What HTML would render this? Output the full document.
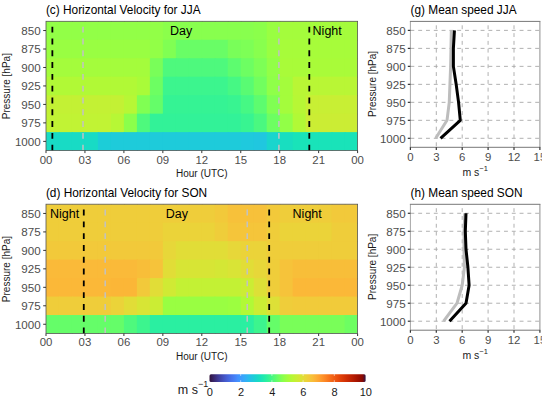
<!DOCTYPE html>
<html><head><meta charset="utf-8"><style>
html,body{margin:0;padding:0;background:#fff;}
svg{display:block;font-family:'Liberation Sans',sans-serif;}
</style></head><body>
<svg width="550" height="402" viewBox="0 0 550 402" style="font-family:'Liberation Sans',sans-serif">
<defs><clipPath id="rclip" clipPathUnits="userSpaceOnUse"><rect x="0" y="0" width="541.8" height="402"/></clipPath></defs>
<rect x="46.00" y="21.30" width="13.98" height="19.47" fill="#92ff47"/>
<rect x="58.98" y="21.30" width="13.98" height="19.47" fill="#92ff47"/>
<rect x="71.97" y="21.30" width="13.98" height="19.47" fill="#92ff47"/>
<rect x="84.95" y="21.30" width="13.98" height="19.47" fill="#92ff47"/>
<rect x="97.93" y="21.30" width="13.98" height="19.47" fill="#92ff47"/>
<rect x="110.92" y="21.30" width="13.98" height="19.47" fill="#92ff47"/>
<rect x="123.90" y="21.30" width="13.98" height="19.47" fill="#92ff47"/>
<rect x="136.88" y="21.30" width="13.98" height="19.47" fill="#92ff47"/>
<rect x="149.87" y="21.30" width="13.98" height="19.47" fill="#92ff47"/>
<rect x="162.85" y="21.30" width="13.98" height="19.47" fill="#8bff4b"/>
<rect x="175.83" y="21.30" width="13.98" height="19.47" fill="#88ff4e"/>
<rect x="188.82" y="21.30" width="13.98" height="19.47" fill="#88ff4e"/>
<rect x="201.80" y="21.30" width="13.98" height="19.47" fill="#88ff4e"/>
<rect x="214.78" y="21.30" width="13.98" height="19.47" fill="#88ff4e"/>
<rect x="227.77" y="21.30" width="13.98" height="19.47" fill="#88ff4e"/>
<rect x="240.75" y="21.30" width="13.98" height="19.47" fill="#88ff4e"/>
<rect x="253.73" y="21.30" width="13.98" height="19.47" fill="#8bff4b"/>
<rect x="266.72" y="21.30" width="13.98" height="19.47" fill="#99fe42"/>
<rect x="279.70" y="21.30" width="13.98" height="19.47" fill="#a4fc3c"/>
<rect x="292.68" y="21.30" width="13.98" height="19.47" fill="#a4fc3c"/>
<rect x="305.67" y="21.30" width="13.98" height="19.47" fill="#a4fc3c"/>
<rect x="318.65" y="21.30" width="13.98" height="19.47" fill="#a4fc3c"/>
<rect x="331.63" y="21.30" width="13.98" height="19.47" fill="#a4fc3c"/>
<rect x="344.62" y="21.30" width="12.98" height="19.47" fill="#a4fc3c"/>
<rect x="46.00" y="39.77" width="13.98" height="19.47" fill="#99fe42"/>
<rect x="58.98" y="39.77" width="13.98" height="19.47" fill="#99fe42"/>
<rect x="71.97" y="39.77" width="13.98" height="19.47" fill="#99fe42"/>
<rect x="84.95" y="39.77" width="13.98" height="19.47" fill="#99fe42"/>
<rect x="97.93" y="39.77" width="13.98" height="19.47" fill="#99fe42"/>
<rect x="110.92" y="39.77" width="13.98" height="19.47" fill="#99fe42"/>
<rect x="123.90" y="39.77" width="13.98" height="19.47" fill="#99fe42"/>
<rect x="136.88" y="39.77" width="13.98" height="19.47" fill="#99fe42"/>
<rect x="149.87" y="39.77" width="13.98" height="19.47" fill="#92ff47"/>
<rect x="162.85" y="39.77" width="13.98" height="19.47" fill="#80ff53"/>
<rect x="175.83" y="39.77" width="13.98" height="19.47" fill="#69fd66"/>
<rect x="188.82" y="39.77" width="13.98" height="19.47" fill="#69fd66"/>
<rect x="201.80" y="39.77" width="13.98" height="19.47" fill="#69fd66"/>
<rect x="214.78" y="39.77" width="13.98" height="19.47" fill="#69fd66"/>
<rect x="227.77" y="39.77" width="13.98" height="19.47" fill="#79fe59"/>
<rect x="240.75" y="39.77" width="13.98" height="19.47" fill="#7dff56"/>
<rect x="253.73" y="39.77" width="13.98" height="19.47" fill="#88ff4e"/>
<rect x="266.72" y="39.77" width="13.98" height="19.47" fill="#99fe42"/>
<rect x="279.70" y="39.77" width="13.98" height="19.47" fill="#a7fc3a"/>
<rect x="292.68" y="39.77" width="13.98" height="19.47" fill="#a7fc3a"/>
<rect x="305.67" y="39.77" width="13.98" height="19.47" fill="#a7fc3a"/>
<rect x="318.65" y="39.77" width="13.98" height="19.47" fill="#a7fc3a"/>
<rect x="331.63" y="39.77" width="13.98" height="19.47" fill="#a7fc3a"/>
<rect x="344.62" y="39.77" width="12.98" height="19.47" fill="#a7fc3a"/>
<rect x="46.00" y="58.24" width="13.98" height="19.47" fill="#a4fc3c"/>
<rect x="58.98" y="58.24" width="13.98" height="19.47" fill="#a4fc3c"/>
<rect x="71.97" y="58.24" width="13.98" height="19.47" fill="#a4fc3c"/>
<rect x="84.95" y="58.24" width="13.98" height="19.47" fill="#a4fc3c"/>
<rect x="97.93" y="58.24" width="13.98" height="19.47" fill="#a4fc3c"/>
<rect x="110.92" y="58.24" width="13.98" height="19.47" fill="#a4fc3c"/>
<rect x="123.90" y="58.24" width="13.98" height="19.47" fill="#a4fc3c"/>
<rect x="136.88" y="58.24" width="13.98" height="19.47" fill="#a4fc3c"/>
<rect x="149.87" y="58.24" width="13.98" height="19.47" fill="#79fe59"/>
<rect x="162.85" y="58.24" width="13.98" height="19.47" fill="#4ef97d"/>
<rect x="175.83" y="58.24" width="13.98" height="19.47" fill="#4ef97d"/>
<rect x="188.82" y="58.24" width="13.98" height="19.47" fill="#4ef97d"/>
<rect x="201.80" y="58.24" width="13.98" height="19.47" fill="#4ef97d"/>
<rect x="214.78" y="58.24" width="13.98" height="19.47" fill="#4ef97d"/>
<rect x="227.77" y="58.24" width="13.98" height="19.47" fill="#5dfc6f"/>
<rect x="240.75" y="58.24" width="13.98" height="19.47" fill="#6dfe62"/>
<rect x="253.73" y="58.24" width="13.98" height="19.47" fill="#7dff56"/>
<rect x="266.72" y="58.24" width="13.98" height="19.47" fill="#92ff47"/>
<rect x="279.70" y="58.24" width="13.98" height="19.47" fill="#a9fb39"/>
<rect x="292.68" y="58.24" width="13.98" height="19.47" fill="#a9fb39"/>
<rect x="305.67" y="58.24" width="13.98" height="19.47" fill="#a9fb39"/>
<rect x="318.65" y="58.24" width="13.98" height="19.47" fill="#a9fb39"/>
<rect x="331.63" y="58.24" width="13.98" height="19.47" fill="#a9fb39"/>
<rect x="344.62" y="58.24" width="12.98" height="19.47" fill="#a9fb39"/>
<rect x="46.00" y="76.71" width="13.98" height="19.47" fill="#b1f936"/>
<rect x="58.98" y="76.71" width="13.98" height="19.47" fill="#b1f936"/>
<rect x="71.97" y="76.71" width="13.98" height="19.47" fill="#b1f936"/>
<rect x="84.95" y="76.71" width="13.98" height="19.47" fill="#b1f936"/>
<rect x="97.93" y="76.71" width="13.98" height="19.47" fill="#b1f936"/>
<rect x="110.92" y="76.71" width="13.98" height="19.47" fill="#b1f936"/>
<rect x="123.90" y="76.71" width="13.98" height="19.47" fill="#b1f936"/>
<rect x="136.88" y="76.71" width="13.98" height="19.47" fill="#a9fb39"/>
<rect x="149.87" y="76.71" width="13.98" height="19.47" fill="#6dfe62"/>
<rect x="162.85" y="76.71" width="13.98" height="19.47" fill="#3cf58e"/>
<rect x="175.83" y="76.71" width="13.98" height="19.47" fill="#3cf58e"/>
<rect x="188.82" y="76.71" width="13.98" height="19.47" fill="#3cf58e"/>
<rect x="201.80" y="76.71" width="13.98" height="19.47" fill="#3cf58e"/>
<rect x="214.78" y="76.71" width="13.98" height="19.47" fill="#3cf58e"/>
<rect x="227.77" y="76.71" width="13.98" height="19.47" fill="#46f884"/>
<rect x="240.75" y="76.71" width="13.98" height="19.47" fill="#59fb73"/>
<rect x="253.73" y="76.71" width="13.98" height="19.47" fill="#71fe5f"/>
<rect x="266.72" y="76.71" width="13.98" height="19.47" fill="#8fff49"/>
<rect x="279.70" y="76.71" width="13.98" height="19.47" fill="#a4fc3c"/>
<rect x="292.68" y="76.71" width="13.98" height="19.47" fill="#b9f635"/>
<rect x="305.67" y="76.71" width="13.98" height="19.47" fill="#b9f635"/>
<rect x="318.65" y="76.71" width="13.98" height="19.47" fill="#b9f635"/>
<rect x="331.63" y="76.71" width="13.98" height="19.47" fill="#b9f635"/>
<rect x="344.62" y="76.71" width="12.98" height="19.47" fill="#b9f635"/>
<rect x="46.00" y="95.19" width="13.98" height="19.47" fill="#c3f134"/>
<rect x="58.98" y="95.19" width="13.98" height="19.47" fill="#c3f134"/>
<rect x="71.97" y="95.19" width="13.98" height="19.47" fill="#c3f134"/>
<rect x="84.95" y="95.19" width="13.98" height="19.47" fill="#c3f134"/>
<rect x="97.93" y="95.19" width="13.98" height="19.47" fill="#c3f134"/>
<rect x="110.92" y="95.19" width="13.98" height="19.47" fill="#c3f134"/>
<rect x="123.90" y="95.19" width="13.98" height="19.47" fill="#b7f735"/>
<rect x="136.88" y="95.19" width="13.98" height="19.47" fill="#80ff53"/>
<rect x="149.87" y="95.19" width="13.98" height="19.47" fill="#65fd69"/>
<rect x="162.85" y="95.19" width="13.98" height="19.47" fill="#35f394"/>
<rect x="175.83" y="95.19" width="13.98" height="19.47" fill="#35f394"/>
<rect x="188.82" y="95.19" width="13.98" height="19.47" fill="#35f394"/>
<rect x="201.80" y="95.19" width="13.98" height="19.47" fill="#35f394"/>
<rect x="214.78" y="95.19" width="13.98" height="19.47" fill="#35f394"/>
<rect x="227.77" y="95.19" width="13.98" height="19.47" fill="#38f491"/>
<rect x="240.75" y="95.19" width="13.98" height="19.47" fill="#46f884"/>
<rect x="253.73" y="95.19" width="13.98" height="19.47" fill="#5dfc6f"/>
<rect x="266.72" y="95.19" width="13.98" height="19.47" fill="#80ff53"/>
<rect x="279.70" y="95.19" width="13.98" height="19.47" fill="#a4fc3c"/>
<rect x="292.68" y="95.19" width="13.98" height="19.47" fill="#b7f735"/>
<rect x="305.67" y="95.19" width="13.98" height="19.47" fill="#c8ef34"/>
<rect x="318.65" y="95.19" width="13.98" height="19.47" fill="#c8ef34"/>
<rect x="331.63" y="95.19" width="13.98" height="19.47" fill="#c8ef34"/>
<rect x="344.62" y="95.19" width="12.98" height="19.47" fill="#c8ef34"/>
<rect x="46.00" y="113.66" width="13.98" height="19.47" fill="#c1f334"/>
<rect x="58.98" y="113.66" width="13.98" height="19.47" fill="#c1f334"/>
<rect x="71.97" y="113.66" width="13.98" height="19.47" fill="#c1f334"/>
<rect x="84.95" y="113.66" width="13.98" height="19.47" fill="#c1f334"/>
<rect x="97.93" y="113.66" width="13.98" height="19.47" fill="#c1f334"/>
<rect x="110.92" y="113.66" width="13.98" height="19.47" fill="#b7f735"/>
<rect x="123.90" y="113.66" width="13.98" height="19.47" fill="#8bff4b"/>
<rect x="136.88" y="113.66" width="13.98" height="19.47" fill="#4ef97d"/>
<rect x="149.87" y="113.66" width="13.98" height="19.47" fill="#32f298"/>
<rect x="162.85" y="113.66" width="13.98" height="19.47" fill="#32f298"/>
<rect x="175.83" y="113.66" width="13.98" height="19.47" fill="#32f298"/>
<rect x="188.82" y="113.66" width="13.98" height="19.47" fill="#32f298"/>
<rect x="201.80" y="113.66" width="13.98" height="19.47" fill="#32f298"/>
<rect x="214.78" y="113.66" width="13.98" height="19.47" fill="#32f298"/>
<rect x="227.77" y="113.66" width="13.98" height="19.47" fill="#32f298"/>
<rect x="240.75" y="113.66" width="13.98" height="19.47" fill="#38f491"/>
<rect x="253.73" y="113.66" width="13.98" height="19.47" fill="#4af880"/>
<rect x="266.72" y="113.66" width="13.98" height="19.47" fill="#6dfe62"/>
<rect x="279.70" y="113.66" width="13.98" height="19.47" fill="#92ff47"/>
<rect x="292.68" y="113.66" width="13.98" height="19.47" fill="#b1f936"/>
<rect x="305.67" y="113.66" width="13.98" height="19.47" fill="#cbed34"/>
<rect x="318.65" y="113.66" width="13.98" height="19.47" fill="#cbed34"/>
<rect x="331.63" y="113.66" width="13.98" height="19.47" fill="#cbed34"/>
<rect x="344.62" y="113.66" width="12.98" height="19.47" fill="#cbed34"/>
<rect x="46.00" y="132.13" width="13.98" height="18.47" fill="#18dbc5"/>
<rect x="58.98" y="132.13" width="13.98" height="18.47" fill="#18dbc5"/>
<rect x="71.97" y="132.13" width="13.98" height="18.47" fill="#18dbc5"/>
<rect x="84.95" y="132.13" width="13.98" height="18.47" fill="#18dbc5"/>
<rect x="97.93" y="132.13" width="13.98" height="18.47" fill="#1ccdd8"/>
<rect x="110.92" y="132.13" width="13.98" height="18.47" fill="#1ecbda"/>
<rect x="123.90" y="132.13" width="13.98" height="18.47" fill="#1ecbda"/>
<rect x="136.88" y="132.13" width="13.98" height="18.47" fill="#1ecbda"/>
<rect x="149.87" y="132.13" width="13.98" height="18.47" fill="#1ecbda"/>
<rect x="162.85" y="132.13" width="13.98" height="18.47" fill="#1ecbda"/>
<rect x="175.83" y="132.13" width="13.98" height="18.47" fill="#1ecbda"/>
<rect x="188.82" y="132.13" width="13.98" height="18.47" fill="#1ecbda"/>
<rect x="201.80" y="132.13" width="13.98" height="18.47" fill="#1ecbda"/>
<rect x="214.78" y="132.13" width="13.98" height="18.47" fill="#1ecbda"/>
<rect x="227.77" y="132.13" width="13.98" height="18.47" fill="#1ecbda"/>
<rect x="240.75" y="132.13" width="13.98" height="18.47" fill="#1fc9dd"/>
<rect x="253.73" y="132.13" width="13.98" height="18.47" fill="#20c7df"/>
<rect x="266.72" y="132.13" width="13.98" height="18.47" fill="#19d5cd"/>
<rect x="279.70" y="132.13" width="13.98" height="18.47" fill="#18dec0"/>
<rect x="292.68" y="132.13" width="13.98" height="18.47" fill="#19e3b9"/>
<rect x="305.67" y="132.13" width="13.98" height="18.47" fill="#19e3b9"/>
<rect x="318.65" y="132.13" width="13.98" height="18.47" fill="#19e3b9"/>
<rect x="331.63" y="132.13" width="13.98" height="18.47" fill="#19e3b9"/>
<rect x="344.62" y="132.13" width="12.98" height="18.47" fill="#19e3b9"/>
<line x1="52.36" y1="150.60" x2="52.36" y2="21.30" stroke="#000" stroke-width="1.8" stroke-dasharray="5.9 5.9"/>
<line x1="83.00" y1="150.60" x2="83.00" y2="21.30" stroke="#c2c2c2" stroke-width="1.5" stroke-dasharray="5.9 5.9"/>
<line x1="278.92" y1="150.60" x2="278.92" y2="21.30" stroke="#c2c2c2" stroke-width="1.5" stroke-dasharray="5.9 5.9"/>
<line x1="309.30" y1="150.60" x2="309.30" y2="21.30" stroke="#000" stroke-width="1.8" stroke-dasharray="5.9 5.9"/>
<text x="170.0" y="35.3" font-size="12.5" fill="#000">Day</text>
<text x="312.6" y="34.9" font-size="12.5" fill="#000">Night</text>
<rect x="46.00" y="21.30" width="311.60" height="129.30" fill="none" stroke="#555" stroke-width="0.8"/>
<text x="45.9" y="14.0" font-size="11.85" fill="#000">(c) Horizontal Velocity for JJA</text>
<line x1="43.2" x2="46" y1="30.54" y2="30.54" stroke="#333" stroke-width="1"/>
<text x="40.7" y="34.84" font-size="11.6" fill="#4d4d4d" text-anchor="end">850</text>
<line x1="43.2" x2="46" y1="49.01" y2="49.01" stroke="#333" stroke-width="1"/>
<text x="40.7" y="53.31" font-size="11.6" fill="#4d4d4d" text-anchor="end">875</text>
<line x1="43.2" x2="46" y1="67.48" y2="67.48" stroke="#333" stroke-width="1"/>
<text x="40.7" y="71.78" font-size="11.6" fill="#4d4d4d" text-anchor="end">900</text>
<line x1="43.2" x2="46" y1="85.95" y2="85.95" stroke="#333" stroke-width="1"/>
<text x="40.7" y="90.25" font-size="11.6" fill="#4d4d4d" text-anchor="end">925</text>
<line x1="43.2" x2="46" y1="104.42" y2="104.42" stroke="#333" stroke-width="1"/>
<text x="40.7" y="108.72" font-size="11.6" fill="#4d4d4d" text-anchor="end">950</text>
<line x1="43.2" x2="46" y1="122.89" y2="122.89" stroke="#333" stroke-width="1"/>
<text x="40.7" y="127.19" font-size="11.6" fill="#4d4d4d" text-anchor="end">975</text>
<line x1="43.2" x2="46" y1="141.36" y2="141.36" stroke="#333" stroke-width="1"/>
<text x="40.7" y="145.66" font-size="11.6" fill="#4d4d4d" text-anchor="end">1000</text>
<line x1="46.00" x2="46.00" y1="150.60" y2="153.10" stroke="#333" stroke-width="1"/>
<text x="46.00" y="163.50" font-size="11.4" fill="#4d4d4d" text-anchor="middle">00</text>
<line x1="84.95" x2="84.95" y1="150.60" y2="153.10" stroke="#333" stroke-width="1"/>
<text x="84.95" y="163.50" font-size="11.4" fill="#4d4d4d" text-anchor="middle">03</text>
<line x1="123.90" x2="123.90" y1="150.60" y2="153.10" stroke="#333" stroke-width="1"/>
<text x="123.90" y="163.50" font-size="11.4" fill="#4d4d4d" text-anchor="middle">06</text>
<line x1="162.85" x2="162.85" y1="150.60" y2="153.10" stroke="#333" stroke-width="1"/>
<text x="162.85" y="163.50" font-size="11.4" fill="#4d4d4d" text-anchor="middle">09</text>
<line x1="201.80" x2="201.80" y1="150.60" y2="153.10" stroke="#333" stroke-width="1"/>
<text x="201.80" y="163.50" font-size="11.4" fill="#4d4d4d" text-anchor="middle">12</text>
<line x1="240.75" x2="240.75" y1="150.60" y2="153.10" stroke="#333" stroke-width="1"/>
<text x="240.75" y="163.50" font-size="11.4" fill="#4d4d4d" text-anchor="middle">15</text>
<line x1="279.70" x2="279.70" y1="150.60" y2="153.10" stroke="#333" stroke-width="1"/>
<text x="279.70" y="163.50" font-size="11.4" fill="#4d4d4d" text-anchor="middle">18</text>
<line x1="318.65" x2="318.65" y1="150.60" y2="153.10" stroke="#333" stroke-width="1"/>
<text x="318.65" y="163.50" font-size="11.4" fill="#4d4d4d" text-anchor="middle">21</text>
<line x1="357.60" x2="357.60" y1="150.60" y2="153.10" stroke="#333" stroke-width="1"/>
<text x="357.60" y="163.50" font-size="11.4" fill="#4d4d4d" text-anchor="middle">00</text>
<text x="201.80" y="176.80" font-size="10" fill="#1a1a1a" text-anchor="middle">Hour (UTC)</text>
<text transform="translate(10.4,86.15) rotate(-90)" font-size="10" fill="#1a1a1a" text-anchor="middle">Pressure [hPa]</text>
<rect x="46.00" y="204.20" width="13.98" height="19.47" fill="#efcd3a"/>
<rect x="58.98" y="204.20" width="13.98" height="19.47" fill="#efcd3a"/>
<rect x="71.97" y="204.20" width="13.98" height="19.47" fill="#efcd3a"/>
<rect x="84.95" y="204.20" width="13.98" height="19.47" fill="#efcd3a"/>
<rect x="97.93" y="204.20" width="13.98" height="19.47" fill="#efcd3a"/>
<rect x="110.92" y="204.20" width="13.98" height="19.47" fill="#efcd3a"/>
<rect x="123.90" y="204.20" width="13.98" height="19.47" fill="#efcd3a"/>
<rect x="136.88" y="204.20" width="13.98" height="19.47" fill="#efcd3a"/>
<rect x="149.87" y="204.20" width="13.98" height="19.47" fill="#efcd3a"/>
<rect x="162.85" y="204.20" width="13.98" height="19.47" fill="#efcd3a"/>
<rect x="175.83" y="204.20" width="13.98" height="19.47" fill="#efcd3a"/>
<rect x="188.82" y="204.20" width="13.98" height="19.47" fill="#efcd3a"/>
<rect x="201.80" y="204.20" width="13.98" height="19.47" fill="#efcd3a"/>
<rect x="214.78" y="204.20" width="13.98" height="19.47" fill="#f2c93a"/>
<rect x="227.77" y="204.20" width="13.98" height="19.47" fill="#f7c13a"/>
<rect x="240.75" y="204.20" width="13.98" height="19.47" fill="#f7c13a"/>
<rect x="253.73" y="204.20" width="13.98" height="19.47" fill="#f7c13a"/>
<rect x="266.72" y="204.20" width="13.98" height="19.47" fill="#f2c93a"/>
<rect x="279.70" y="204.20" width="13.98" height="19.47" fill="#efcd3a"/>
<rect x="292.68" y="204.20" width="13.98" height="19.47" fill="#efcd3a"/>
<rect x="305.67" y="204.20" width="13.98" height="19.47" fill="#efcd3a"/>
<rect x="318.65" y="204.20" width="13.98" height="19.47" fill="#efcd3a"/>
<rect x="331.63" y="204.20" width="13.98" height="19.47" fill="#f2c93a"/>
<rect x="344.62" y="204.20" width="12.98" height="19.47" fill="#f2c93a"/>
<rect x="46.00" y="222.67" width="13.98" height="19.47" fill="#efcd3a"/>
<rect x="58.98" y="222.67" width="13.98" height="19.47" fill="#efcd3a"/>
<rect x="71.97" y="222.67" width="13.98" height="19.47" fill="#efcd3a"/>
<rect x="84.95" y="222.67" width="13.98" height="19.47" fill="#efcd3a"/>
<rect x="97.93" y="222.67" width="13.98" height="19.47" fill="#efcd3a"/>
<rect x="110.92" y="222.67" width="13.98" height="19.47" fill="#efcd3a"/>
<rect x="123.90" y="222.67" width="13.98" height="19.47" fill="#efcd3a"/>
<rect x="136.88" y="222.67" width="13.98" height="19.47" fill="#efcd3a"/>
<rect x="149.87" y="222.67" width="13.98" height="19.47" fill="#efcd3a"/>
<rect x="162.85" y="222.67" width="13.98" height="19.47" fill="#ebd339"/>
<rect x="175.83" y="222.67" width="13.98" height="19.47" fill="#ebd339"/>
<rect x="188.82" y="222.67" width="13.98" height="19.47" fill="#ebd339"/>
<rect x="201.80" y="222.67" width="13.98" height="19.47" fill="#ebd339"/>
<rect x="214.78" y="222.67" width="13.98" height="19.47" fill="#efcd3a"/>
<rect x="227.77" y="222.67" width="13.98" height="19.47" fill="#f5c53a"/>
<rect x="240.75" y="222.67" width="13.98" height="19.47" fill="#f5c53a"/>
<rect x="253.73" y="222.67" width="13.98" height="19.47" fill="#f5c53a"/>
<rect x="266.72" y="222.67" width="13.98" height="19.47" fill="#efcd3a"/>
<rect x="279.70" y="222.67" width="13.98" height="19.47" fill="#ebd339"/>
<rect x="292.68" y="222.67" width="13.98" height="19.47" fill="#ebd339"/>
<rect x="305.67" y="222.67" width="13.98" height="19.47" fill="#ebd339"/>
<rect x="318.65" y="222.67" width="13.98" height="19.47" fill="#ebd339"/>
<rect x="331.63" y="222.67" width="13.98" height="19.47" fill="#efcd3a"/>
<rect x="344.62" y="222.67" width="12.98" height="19.47" fill="#efcd3a"/>
<rect x="46.00" y="241.14" width="13.98" height="19.47" fill="#f2c93a"/>
<rect x="58.98" y="241.14" width="13.98" height="19.47" fill="#f2c93a"/>
<rect x="71.97" y="241.14" width="13.98" height="19.47" fill="#f2c93a"/>
<rect x="84.95" y="241.14" width="13.98" height="19.47" fill="#f2c93a"/>
<rect x="97.93" y="241.14" width="13.98" height="19.47" fill="#f2c93a"/>
<rect x="110.92" y="241.14" width="13.98" height="19.47" fill="#f2c93a"/>
<rect x="123.90" y="241.14" width="13.98" height="19.47" fill="#f2c93a"/>
<rect x="136.88" y="241.14" width="13.98" height="19.47" fill="#f2c93a"/>
<rect x="149.87" y="241.14" width="13.98" height="19.47" fill="#f2c93a"/>
<rect x="162.85" y="241.14" width="13.98" height="19.47" fill="#e7d739"/>
<rect x="175.83" y="241.14" width="13.98" height="19.47" fill="#e1dd37"/>
<rect x="188.82" y="241.14" width="13.98" height="19.47" fill="#e1dd37"/>
<rect x="201.80" y="241.14" width="13.98" height="19.47" fill="#e1dd37"/>
<rect x="214.78" y="241.14" width="13.98" height="19.47" fill="#e1dd37"/>
<rect x="227.77" y="241.14" width="13.98" height="19.47" fill="#e7d739"/>
<rect x="240.75" y="241.14" width="13.98" height="19.47" fill="#ebd339"/>
<rect x="253.73" y="241.14" width="13.98" height="19.47" fill="#ebd339"/>
<rect x="266.72" y="241.14" width="13.98" height="19.47" fill="#efcd3a"/>
<rect x="279.70" y="241.14" width="13.98" height="19.47" fill="#efcd3a"/>
<rect x="292.68" y="241.14" width="13.98" height="19.47" fill="#efcd3a"/>
<rect x="305.67" y="241.14" width="13.98" height="19.47" fill="#efcd3a"/>
<rect x="318.65" y="241.14" width="13.98" height="19.47" fill="#efcd3a"/>
<rect x="331.63" y="241.14" width="13.98" height="19.47" fill="#efcd3a"/>
<rect x="344.62" y="241.14" width="12.98" height="19.47" fill="#efcd3a"/>
<rect x="46.00" y="259.61" width="13.98" height="19.47" fill="#faba39"/>
<rect x="58.98" y="259.61" width="13.98" height="19.47" fill="#faba39"/>
<rect x="71.97" y="259.61" width="13.98" height="19.47" fill="#faba39"/>
<rect x="84.95" y="259.61" width="13.98" height="19.47" fill="#faba39"/>
<rect x="97.93" y="259.61" width="13.98" height="19.47" fill="#faba39"/>
<rect x="110.92" y="259.61" width="13.98" height="19.47" fill="#faba39"/>
<rect x="123.90" y="259.61" width="13.98" height="19.47" fill="#faba39"/>
<rect x="136.88" y="259.61" width="13.98" height="19.47" fill="#f8be39"/>
<rect x="149.87" y="259.61" width="13.98" height="19.47" fill="#f6c33a"/>
<rect x="162.85" y="259.61" width="13.98" height="19.47" fill="#e1dd37"/>
<rect x="175.83" y="259.61" width="13.98" height="19.47" fill="#d7e535"/>
<rect x="188.82" y="259.61" width="13.98" height="19.47" fill="#d7e535"/>
<rect x="201.80" y="259.61" width="13.98" height="19.47" fill="#d7e535"/>
<rect x="214.78" y="259.61" width="13.98" height="19.47" fill="#d4e735"/>
<rect x="227.77" y="259.61" width="13.98" height="19.47" fill="#d9e436"/>
<rect x="240.75" y="259.61" width="13.98" height="19.47" fill="#e1dd37"/>
<rect x="253.73" y="259.61" width="13.98" height="19.47" fill="#e7d739"/>
<rect x="266.72" y="259.61" width="13.98" height="19.47" fill="#efcd3a"/>
<rect x="279.70" y="259.61" width="13.98" height="19.47" fill="#f6c33a"/>
<rect x="292.68" y="259.61" width="13.98" height="19.47" fill="#f8be39"/>
<rect x="305.67" y="259.61" width="13.98" height="19.47" fill="#f8be39"/>
<rect x="318.65" y="259.61" width="13.98" height="19.47" fill="#f8be39"/>
<rect x="331.63" y="259.61" width="13.98" height="19.47" fill="#f8be39"/>
<rect x="344.62" y="259.61" width="12.98" height="19.47" fill="#f8be39"/>
<rect x="46.00" y="278.09" width="13.98" height="19.47" fill="#fbb838"/>
<rect x="58.98" y="278.09" width="13.98" height="19.47" fill="#fbb838"/>
<rect x="71.97" y="278.09" width="13.98" height="19.47" fill="#fbb838"/>
<rect x="84.95" y="278.09" width="13.98" height="19.47" fill="#fbb838"/>
<rect x="97.93" y="278.09" width="13.98" height="19.47" fill="#fbb838"/>
<rect x="110.92" y="278.09" width="13.98" height="19.47" fill="#fbb637"/>
<rect x="123.90" y="278.09" width="13.98" height="19.47" fill="#fbb637"/>
<rect x="136.88" y="278.09" width="13.98" height="19.47" fill="#f2c93a"/>
<rect x="149.87" y="278.09" width="13.98" height="19.47" fill="#e1dd37"/>
<rect x="162.85" y="278.09" width="13.98" height="19.47" fill="#d0ea34"/>
<rect x="175.83" y="278.09" width="13.98" height="19.47" fill="#c3f134"/>
<rect x="188.82" y="278.09" width="13.98" height="19.47" fill="#c3f134"/>
<rect x="201.80" y="278.09" width="13.98" height="19.47" fill="#c3f134"/>
<rect x="214.78" y="278.09" width="13.98" height="19.47" fill="#c3f134"/>
<rect x="227.77" y="278.09" width="13.98" height="19.47" fill="#c3f134"/>
<rect x="240.75" y="278.09" width="13.98" height="19.47" fill="#cbed34"/>
<rect x="253.73" y="278.09" width="13.98" height="19.47" fill="#dde037"/>
<rect x="266.72" y="278.09" width="13.98" height="19.47" fill="#efcd3a"/>
<rect x="279.70" y="278.09" width="13.98" height="19.47" fill="#f6c33a"/>
<rect x="292.68" y="278.09" width="13.98" height="19.47" fill="#fbb838"/>
<rect x="305.67" y="278.09" width="13.98" height="19.47" fill="#fbb838"/>
<rect x="318.65" y="278.09" width="13.98" height="19.47" fill="#fbb838"/>
<rect x="331.63" y="278.09" width="13.98" height="19.47" fill="#fbb838"/>
<rect x="344.62" y="278.09" width="12.98" height="19.47" fill="#fbb838"/>
<rect x="46.00" y="296.56" width="13.98" height="19.47" fill="#efcd3a"/>
<rect x="58.98" y="296.56" width="13.98" height="19.47" fill="#efcd3a"/>
<rect x="71.97" y="296.56" width="13.98" height="19.47" fill="#efcd3a"/>
<rect x="84.95" y="296.56" width="13.98" height="19.47" fill="#efcd3a"/>
<rect x="97.93" y="296.56" width="13.98" height="19.47" fill="#efcd3a"/>
<rect x="110.92" y="296.56" width="13.98" height="19.47" fill="#ebd339"/>
<rect x="123.90" y="296.56" width="13.98" height="19.47" fill="#e1dd37"/>
<rect x="136.88" y="296.56" width="13.98" height="19.47" fill="#d7e535"/>
<rect x="149.87" y="296.56" width="13.98" height="19.47" fill="#cbed34"/>
<rect x="162.85" y="296.56" width="13.98" height="19.47" fill="#99fe42"/>
<rect x="175.83" y="296.56" width="13.98" height="19.47" fill="#99fe42"/>
<rect x="188.82" y="296.56" width="13.98" height="19.47" fill="#99fe42"/>
<rect x="201.80" y="296.56" width="13.98" height="19.47" fill="#99fe42"/>
<rect x="214.78" y="296.56" width="13.98" height="19.47" fill="#99fe42"/>
<rect x="227.77" y="296.56" width="13.98" height="19.47" fill="#9cfe40"/>
<rect x="240.75" y="296.56" width="13.98" height="19.47" fill="#b1f936"/>
<rect x="253.73" y="296.56" width="13.98" height="19.47" fill="#cbed34"/>
<rect x="266.72" y="296.56" width="13.98" height="19.47" fill="#dde037"/>
<rect x="279.70" y="296.56" width="13.98" height="19.47" fill="#efcd3a"/>
<rect x="292.68" y="296.56" width="13.98" height="19.47" fill="#f1cb3a"/>
<rect x="305.67" y="296.56" width="13.98" height="19.47" fill="#f1cb3a"/>
<rect x="318.65" y="296.56" width="13.98" height="19.47" fill="#f1cb3a"/>
<rect x="331.63" y="296.56" width="13.98" height="19.47" fill="#f1cb3a"/>
<rect x="344.62" y="296.56" width="12.98" height="19.47" fill="#f1cb3a"/>
<rect x="46.00" y="315.03" width="13.98" height="18.47" fill="#65fd69"/>
<rect x="58.98" y="315.03" width="13.98" height="18.47" fill="#65fd69"/>
<rect x="71.97" y="315.03" width="13.98" height="18.47" fill="#65fd69"/>
<rect x="84.95" y="315.03" width="13.98" height="18.47" fill="#65fd69"/>
<rect x="97.93" y="315.03" width="13.98" height="18.47" fill="#65fd69"/>
<rect x="110.92" y="315.03" width="13.98" height="18.47" fill="#65fd69"/>
<rect x="123.90" y="315.03" width="13.98" height="18.47" fill="#4ef97d"/>
<rect x="136.88" y="315.03" width="13.98" height="18.47" fill="#3cf58e"/>
<rect x="149.87" y="315.03" width="13.98" height="18.47" fill="#2aefa1"/>
<rect x="162.85" y="315.03" width="13.98" height="18.47" fill="#2aefa1"/>
<rect x="175.83" y="315.03" width="13.98" height="18.47" fill="#2aefa1"/>
<rect x="188.82" y="315.03" width="13.98" height="18.47" fill="#2aefa1"/>
<rect x="201.80" y="315.03" width="13.98" height="18.47" fill="#2aefa1"/>
<rect x="214.78" y="315.03" width="13.98" height="18.47" fill="#2aefa1"/>
<rect x="227.77" y="315.03" width="13.98" height="18.47" fill="#2aefa1"/>
<rect x="240.75" y="315.03" width="13.98" height="18.47" fill="#2aefa1"/>
<rect x="253.73" y="315.03" width="13.98" height="18.47" fill="#3cf58e"/>
<rect x="266.72" y="315.03" width="13.98" height="18.47" fill="#65fd69"/>
<rect x="279.70" y="315.03" width="13.98" height="18.47" fill="#79fe59"/>
<rect x="292.68" y="315.03" width="13.98" height="18.47" fill="#79fe59"/>
<rect x="305.67" y="315.03" width="13.98" height="18.47" fill="#79fe59"/>
<rect x="318.65" y="315.03" width="13.98" height="18.47" fill="#79fe59"/>
<rect x="331.63" y="315.03" width="13.98" height="18.47" fill="#79fe59"/>
<rect x="344.62" y="315.03" width="12.98" height="18.47" fill="#6dfe62"/>
<line x1="83.78" y1="333.50" x2="83.78" y2="204.20" stroke="#000" stroke-width="1.8" stroke-dasharray="5.9 5.9"/>
<line x1="105.20" y1="333.50" x2="105.20" y2="204.20" stroke="#c2c2c2" stroke-width="1.5" stroke-dasharray="5.9 5.9"/>
<line x1="247.24" y1="333.50" x2="247.24" y2="204.20" stroke="#c2c2c2" stroke-width="1.5" stroke-dasharray="5.9 5.9"/>
<line x1="269.18" y1="333.50" x2="269.18" y2="204.20" stroke="#000" stroke-width="1.8" stroke-dasharray="5.9 5.9"/>
<text x="50.0" y="217.5" font-size="12.5" fill="#000">Night</text>
<text x="165.8" y="217.9" font-size="12.5" fill="#000">Day</text>
<text x="292.6" y="217.5" font-size="12.5" fill="#000">Night</text>
<rect x="46.00" y="204.20" width="311.60" height="129.30" fill="none" stroke="#555" stroke-width="0.8"/>
<text x="45.9" y="196.9" font-size="11.85" fill="#000">(d) Horizontal Velocity for SON</text>
<line x1="43.2" x2="46" y1="213.44" y2="213.44" stroke="#333" stroke-width="1"/>
<text x="40.7" y="217.74" font-size="11.6" fill="#4d4d4d" text-anchor="end">850</text>
<line x1="43.2" x2="46" y1="231.91" y2="231.91" stroke="#333" stroke-width="1"/>
<text x="40.7" y="236.21" font-size="11.6" fill="#4d4d4d" text-anchor="end">875</text>
<line x1="43.2" x2="46" y1="250.38" y2="250.38" stroke="#333" stroke-width="1"/>
<text x="40.7" y="254.68" font-size="11.6" fill="#4d4d4d" text-anchor="end">900</text>
<line x1="43.2" x2="46" y1="268.85" y2="268.85" stroke="#333" stroke-width="1"/>
<text x="40.7" y="273.15" font-size="11.6" fill="#4d4d4d" text-anchor="end">925</text>
<line x1="43.2" x2="46" y1="287.32" y2="287.32" stroke="#333" stroke-width="1"/>
<text x="40.7" y="291.62" font-size="11.6" fill="#4d4d4d" text-anchor="end">950</text>
<line x1="43.2" x2="46" y1="305.79" y2="305.79" stroke="#333" stroke-width="1"/>
<text x="40.7" y="310.09" font-size="11.6" fill="#4d4d4d" text-anchor="end">975</text>
<line x1="43.2" x2="46" y1="324.26" y2="324.26" stroke="#333" stroke-width="1"/>
<text x="40.7" y="328.56" font-size="11.6" fill="#4d4d4d" text-anchor="end">1000</text>
<line x1="46.00" x2="46.00" y1="333.50" y2="336.00" stroke="#333" stroke-width="1"/>
<text x="46.00" y="346.40" font-size="11.4" fill="#4d4d4d" text-anchor="middle">00</text>
<line x1="84.95" x2="84.95" y1="333.50" y2="336.00" stroke="#333" stroke-width="1"/>
<text x="84.95" y="346.40" font-size="11.4" fill="#4d4d4d" text-anchor="middle">03</text>
<line x1="123.90" x2="123.90" y1="333.50" y2="336.00" stroke="#333" stroke-width="1"/>
<text x="123.90" y="346.40" font-size="11.4" fill="#4d4d4d" text-anchor="middle">06</text>
<line x1="162.85" x2="162.85" y1="333.50" y2="336.00" stroke="#333" stroke-width="1"/>
<text x="162.85" y="346.40" font-size="11.4" fill="#4d4d4d" text-anchor="middle">09</text>
<line x1="201.80" x2="201.80" y1="333.50" y2="336.00" stroke="#333" stroke-width="1"/>
<text x="201.80" y="346.40" font-size="11.4" fill="#4d4d4d" text-anchor="middle">12</text>
<line x1="240.75" x2="240.75" y1="333.50" y2="336.00" stroke="#333" stroke-width="1"/>
<text x="240.75" y="346.40" font-size="11.4" fill="#4d4d4d" text-anchor="middle">15</text>
<line x1="279.70" x2="279.70" y1="333.50" y2="336.00" stroke="#333" stroke-width="1"/>
<text x="279.70" y="346.40" font-size="11.4" fill="#4d4d4d" text-anchor="middle">18</text>
<line x1="318.65" x2="318.65" y1="333.50" y2="336.00" stroke="#333" stroke-width="1"/>
<text x="318.65" y="346.40" font-size="11.4" fill="#4d4d4d" text-anchor="middle">21</text>
<line x1="357.60" x2="357.60" y1="333.50" y2="336.00" stroke="#333" stroke-width="1"/>
<text x="357.60" y="346.40" font-size="11.4" fill="#4d4d4d" text-anchor="middle">00</text>
<text x="201.80" y="359.70" font-size="10" fill="#1a1a1a" text-anchor="middle">Hour (UTC)</text>
<text transform="translate(10.4,269.05) rotate(-90)" font-size="10" fill="#1a1a1a" text-anchor="middle">Pressure [hPa]</text>
<rect x="410.4" y="21.4" width="129.50" height="125.90" fill="#fff"/>
<line x1="436.30" x2="436.30" y1="21.4" y2="147.3" stroke="#a8a8a8" stroke-width="0.9" stroke-dasharray="3.9 3.9" stroke-dashoffset="3.9"/>
<line x1="462.20" x2="462.20" y1="21.4" y2="147.3" stroke="#a8a8a8" stroke-width="0.9" stroke-dasharray="3.9 3.9" stroke-dashoffset="3.9"/>
<line x1="488.10" x2="488.10" y1="21.4" y2="147.3" stroke="#a8a8a8" stroke-width="0.9" stroke-dasharray="3.9 3.9" stroke-dashoffset="3.9"/>
<line x1="514.00" x2="514.00" y1="21.4" y2="147.3" stroke="#a8a8a8" stroke-width="0.9" stroke-dasharray="3.9 3.9" stroke-dashoffset="3.9"/>
<line x1="410.4" x2="539.9" y1="30.39" y2="30.39" stroke="#a8a8a8" stroke-width="0.9" stroke-dasharray="3.9 3.9"/>
<line x1="410.4" x2="539.9" y1="48.38" y2="48.38" stroke="#a8a8a8" stroke-width="0.9" stroke-dasharray="3.9 3.9"/>
<line x1="410.4" x2="539.9" y1="66.36" y2="66.36" stroke="#a8a8a8" stroke-width="0.9" stroke-dasharray="3.9 3.9"/>
<line x1="410.4" x2="539.9" y1="84.35" y2="84.35" stroke="#a8a8a8" stroke-width="0.9" stroke-dasharray="3.9 3.9"/>
<line x1="410.4" x2="539.9" y1="102.34" y2="102.34" stroke="#a8a8a8" stroke-width="0.9" stroke-dasharray="3.9 3.9"/>
<line x1="410.4" x2="539.9" y1="120.32" y2="120.32" stroke="#a8a8a8" stroke-width="0.9" stroke-dasharray="3.9 3.9"/>
<line x1="410.4" x2="539.9" y1="138.31" y2="138.31" stroke="#a8a8a8" stroke-width="0.9" stroke-dasharray="3.9 3.9"/>
<polyline points="451.32,30.39 450.98,48.38 450.63,66.36 449.94,84.35 449.25,102.34 447.01,120.32 435.70,138.31" fill="none" stroke="#bdbdbd" stroke-width="3.0" stroke-linejoin="round"/>
<polyline points="454.43,30.39 453.39,48.38 453.39,66.36 456.16,84.35 458.57,102.34 460.30,120.32 440.53,138.31" fill="none" stroke="#000" stroke-width="3.0" stroke-linejoin="round"/>
<line x1="410.4" x2="410.4" y1="21.4" y2="147.3" stroke="#a6a6a6" stroke-width="1"/>
<line x1="539.9" x2="539.9" y1="21.4" y2="147.3" stroke="#999" stroke-width="1.1"/>
<line x1="409.9" x2="540.4" y1="21.4" y2="21.4" stroke="#777" stroke-width="1"/>
<line x1="409.9" x2="540.4" y1="147.3" y2="147.3" stroke="#777" stroke-width="1"/>
<text x="410.6" y="13.9" font-size="11.85" fill="#000">(g) Mean speed JJA</text>
<line x1="407.8" x2="410.4" y1="30.39" y2="30.39" stroke="#333" stroke-width="1.2"/>
<text x="405.7" y="34.79" font-size="11.6" fill="#4d4d4d" text-anchor="end">850</text>
<line x1="407.8" x2="410.4" y1="48.38" y2="48.38" stroke="#333" stroke-width="1.2"/>
<text x="405.7" y="52.78" font-size="11.6" fill="#4d4d4d" text-anchor="end">875</text>
<line x1="407.8" x2="410.4" y1="66.36" y2="66.36" stroke="#333" stroke-width="1.2"/>
<text x="405.7" y="70.76" font-size="11.6" fill="#4d4d4d" text-anchor="end">900</text>
<line x1="407.8" x2="410.4" y1="84.35" y2="84.35" stroke="#333" stroke-width="1.2"/>
<text x="405.7" y="88.75" font-size="11.6" fill="#4d4d4d" text-anchor="end">925</text>
<line x1="407.8" x2="410.4" y1="102.34" y2="102.34" stroke="#333" stroke-width="1.2"/>
<text x="405.7" y="106.74" font-size="11.6" fill="#4d4d4d" text-anchor="end">950</text>
<line x1="407.8" x2="410.4" y1="120.32" y2="120.32" stroke="#333" stroke-width="1.2"/>
<text x="405.7" y="124.72" font-size="11.6" fill="#4d4d4d" text-anchor="end">975</text>
<line x1="407.8" x2="410.4" y1="138.31" y2="138.31" stroke="#333" stroke-width="1.2"/>
<text x="405.7" y="142.71" font-size="11.6" fill="#4d4d4d" text-anchor="end">1000</text>
<line x1="410.40" x2="410.40" y1="147.3" y2="149.90" stroke="#333" stroke-width="1.2"/>
<text x="410.40" y="160.80" font-size="11.4" fill="#4d4d4d" text-anchor="middle">0</text>
<line x1="436.30" x2="436.30" y1="147.3" y2="149.90" stroke="#333" stroke-width="1.2"/>
<text x="436.30" y="160.80" font-size="11.4" fill="#4d4d4d" text-anchor="middle">3</text>
<line x1="462.20" x2="462.20" y1="147.3" y2="149.90" stroke="#333" stroke-width="1.2"/>
<text x="462.20" y="160.80" font-size="11.4" fill="#4d4d4d" text-anchor="middle">6</text>
<line x1="488.10" x2="488.10" y1="147.3" y2="149.90" stroke="#333" stroke-width="1.2"/>
<text x="488.10" y="160.80" font-size="11.4" fill="#4d4d4d" text-anchor="middle">9</text>
<line x1="514.00" x2="514.00" y1="147.3" y2="149.90" stroke="#333" stroke-width="1.2"/>
<text x="514.00" y="160.80" font-size="11.4" fill="#4d4d4d" text-anchor="middle">12</text>
<line x1="539.90" x2="539.90" y1="147.3" y2="149.90" stroke="#333" stroke-width="1.2"/>
<text x="539.90" y="160.80" font-size="11.4" fill="#4d4d4d" text-anchor="middle" clip-path="url(#rclip)">15</text>
<text x="475.15" y="175.70" font-size="10.5" fill="#1a1a1a" text-anchor="middle">m s<tspan font-size="7.5" dy="-4.6">&#8722;1</tspan></text>
<text transform="translate(375.5,83.95) rotate(-90)" font-size="10" fill="#1a1a1a" text-anchor="middle">Pressure [hPa]</text>
<rect x="410.4" y="204.3" width="129.50" height="125.90" fill="#fff"/>
<line x1="436.30" x2="436.30" y1="204.3" y2="330.20000000000005" stroke="#a8a8a8" stroke-width="0.9" stroke-dasharray="3.9 3.9" stroke-dashoffset="3.9"/>
<line x1="462.20" x2="462.20" y1="204.3" y2="330.20000000000005" stroke="#a8a8a8" stroke-width="0.9" stroke-dasharray="3.9 3.9" stroke-dashoffset="3.9"/>
<line x1="488.10" x2="488.10" y1="204.3" y2="330.20000000000005" stroke="#a8a8a8" stroke-width="0.9" stroke-dasharray="3.9 3.9" stroke-dashoffset="3.9"/>
<line x1="514.00" x2="514.00" y1="204.3" y2="330.20000000000005" stroke="#a8a8a8" stroke-width="0.9" stroke-dasharray="3.9 3.9" stroke-dashoffset="3.9"/>
<line x1="410.4" x2="539.9" y1="213.29" y2="213.29" stroke="#a8a8a8" stroke-width="0.9" stroke-dasharray="3.9 3.9"/>
<line x1="410.4" x2="539.9" y1="231.28" y2="231.28" stroke="#a8a8a8" stroke-width="0.9" stroke-dasharray="3.9 3.9"/>
<line x1="410.4" x2="539.9" y1="249.26" y2="249.26" stroke="#a8a8a8" stroke-width="0.9" stroke-dasharray="3.9 3.9"/>
<line x1="410.4" x2="539.9" y1="267.25" y2="267.25" stroke="#a8a8a8" stroke-width="0.9" stroke-dasharray="3.9 3.9"/>
<line x1="410.4" x2="539.9" y1="285.24" y2="285.24" stroke="#a8a8a8" stroke-width="0.9" stroke-dasharray="3.9 3.9"/>
<line x1="410.4" x2="539.9" y1="303.22" y2="303.22" stroke="#a8a8a8" stroke-width="0.9" stroke-dasharray="3.9 3.9"/>
<line x1="410.4" x2="539.9" y1="321.21" y2="321.21" stroke="#a8a8a8" stroke-width="0.9" stroke-dasharray="3.9 3.9"/>
<polyline points="464.79,213.29 464.10,231.28 463.93,249.26 464.44,267.25 462.20,285.24 457.02,303.22 443.64,321.21" fill="none" stroke="#bdbdbd" stroke-width="3.0" stroke-linejoin="round"/>
<polyline points="466.00,213.29 465.31,231.28 466.00,249.26 467.90,267.25 469.11,285.24 466.00,303.22 449.51,321.21" fill="none" stroke="#000" stroke-width="3.0" stroke-linejoin="round"/>
<line x1="410.4" x2="410.4" y1="204.3" y2="330.20000000000005" stroke="#a6a6a6" stroke-width="1"/>
<line x1="539.9" x2="539.9" y1="204.3" y2="330.20000000000005" stroke="#999" stroke-width="1.1"/>
<line x1="409.9" x2="540.4" y1="204.3" y2="204.3" stroke="#777" stroke-width="1"/>
<line x1="409.9" x2="540.4" y1="330.20000000000005" y2="330.20000000000005" stroke="#777" stroke-width="1"/>
<text x="410.6" y="196.8" font-size="11.85" fill="#000">(h) Mean speed SON</text>
<line x1="407.8" x2="410.4" y1="213.29" y2="213.29" stroke="#333" stroke-width="1.2"/>
<text x="405.7" y="217.69" font-size="11.6" fill="#4d4d4d" text-anchor="end">850</text>
<line x1="407.8" x2="410.4" y1="231.28" y2="231.28" stroke="#333" stroke-width="1.2"/>
<text x="405.7" y="235.68" font-size="11.6" fill="#4d4d4d" text-anchor="end">875</text>
<line x1="407.8" x2="410.4" y1="249.26" y2="249.26" stroke="#333" stroke-width="1.2"/>
<text x="405.7" y="253.66" font-size="11.6" fill="#4d4d4d" text-anchor="end">900</text>
<line x1="407.8" x2="410.4" y1="267.25" y2="267.25" stroke="#333" stroke-width="1.2"/>
<text x="405.7" y="271.65" font-size="11.6" fill="#4d4d4d" text-anchor="end">925</text>
<line x1="407.8" x2="410.4" y1="285.24" y2="285.24" stroke="#333" stroke-width="1.2"/>
<text x="405.7" y="289.64" font-size="11.6" fill="#4d4d4d" text-anchor="end">950</text>
<line x1="407.8" x2="410.4" y1="303.22" y2="303.22" stroke="#333" stroke-width="1.2"/>
<text x="405.7" y="307.62" font-size="11.6" fill="#4d4d4d" text-anchor="end">975</text>
<line x1="407.8" x2="410.4" y1="321.21" y2="321.21" stroke="#333" stroke-width="1.2"/>
<text x="405.7" y="325.61" font-size="11.6" fill="#4d4d4d" text-anchor="end">1000</text>
<line x1="410.40" x2="410.40" y1="330.20000000000005" y2="332.80" stroke="#333" stroke-width="1.2"/>
<text x="410.40" y="343.70" font-size="11.4" fill="#4d4d4d" text-anchor="middle">0</text>
<line x1="436.30" x2="436.30" y1="330.20000000000005" y2="332.80" stroke="#333" stroke-width="1.2"/>
<text x="436.30" y="343.70" font-size="11.4" fill="#4d4d4d" text-anchor="middle">3</text>
<line x1="462.20" x2="462.20" y1="330.20000000000005" y2="332.80" stroke="#333" stroke-width="1.2"/>
<text x="462.20" y="343.70" font-size="11.4" fill="#4d4d4d" text-anchor="middle">6</text>
<line x1="488.10" x2="488.10" y1="330.20000000000005" y2="332.80" stroke="#333" stroke-width="1.2"/>
<text x="488.10" y="343.70" font-size="11.4" fill="#4d4d4d" text-anchor="middle">9</text>
<line x1="514.00" x2="514.00" y1="330.20000000000005" y2="332.80" stroke="#333" stroke-width="1.2"/>
<text x="514.00" y="343.70" font-size="11.4" fill="#4d4d4d" text-anchor="middle">12</text>
<line x1="539.90" x2="539.90" y1="330.20000000000005" y2="332.80" stroke="#333" stroke-width="1.2"/>
<text x="539.90" y="343.70" font-size="11.4" fill="#4d4d4d" text-anchor="middle" clip-path="url(#rclip)">15</text>
<text x="475.15" y="358.60" font-size="10.5" fill="#1a1a1a" text-anchor="middle">m s<tspan font-size="7.5" dy="-4.6">&#8722;1</tspan></text>
<text transform="translate(375.5,266.85) rotate(-90)" font-size="10" fill="#1a1a1a" text-anchor="middle">Pressure [hPa]</text>
<defs><linearGradient id="cb" x1="209.5" x2="365.5" y1="0" y2="0" gradientUnits="userSpaceOnUse"><stop offset="0.000" stop-color="#30123b"/><stop offset="0.020" stop-color="#36215f"/><stop offset="0.040" stop-color="#3b2f80"/><stop offset="0.060" stop-color="#3f3e9c"/><stop offset="0.080" stop-color="#424bb5"/><stop offset="0.100" stop-color="#4559cb"/><stop offset="0.120" stop-color="#4666dd"/><stop offset="0.140" stop-color="#4773eb"/><stop offset="0.160" stop-color="#4680f6"/><stop offset="0.180" stop-color="#448ffe"/><stop offset="0.200" stop-color="#3e9bfe"/><stop offset="0.220" stop-color="#37a8fa"/><stop offset="0.240" stop-color="#2eb4f2"/><stop offset="0.260" stop-color="#25c0e7"/><stop offset="0.280" stop-color="#1ecbda"/><stop offset="0.300" stop-color="#19d5cd"/><stop offset="0.320" stop-color="#18dec0"/><stop offset="0.340" stop-color="#1de7b2"/><stop offset="0.360" stop-color="#27eea4"/><stop offset="0.380" stop-color="#35f394"/><stop offset="0.400" stop-color="#46f884"/><stop offset="0.420" stop-color="#59fb73"/><stop offset="0.440" stop-color="#6dfe62"/><stop offset="0.460" stop-color="#80ff53"/><stop offset="0.480" stop-color="#92ff47"/><stop offset="0.500" stop-color="#a4fc3c"/><stop offset="0.520" stop-color="#b1f936"/><stop offset="0.540" stop-color="#bef434"/><stop offset="0.560" stop-color="#cbed34"/><stop offset="0.580" stop-color="#d7e535"/><stop offset="0.600" stop-color="#e1dd37"/><stop offset="0.620" stop-color="#ebd339"/><stop offset="0.640" stop-color="#f2c93a"/><stop offset="0.660" stop-color="#f8be39"/><stop offset="0.680" stop-color="#fcb136"/><stop offset="0.700" stop-color="#fea431"/><stop offset="0.720" stop-color="#fe962b"/><stop offset="0.740" stop-color="#fc8725"/><stop offset="0.760" stop-color="#f9781e"/><stop offset="0.780" stop-color="#f56918"/><stop offset="0.800" stop-color="#f05b12"/><stop offset="0.820" stop-color="#ea4e0d"/><stop offset="0.840" stop-color="#e14109"/><stop offset="0.860" stop-color="#d83706"/><stop offset="0.880" stop-color="#ce2d04"/><stop offset="0.900" stop-color="#c32503"/><stop offset="0.920" stop-color="#b71d02"/><stop offset="0.940" stop-color="#a91601"/><stop offset="0.960" stop-color="#9b0f01"/><stop offset="0.980" stop-color="#8b0902"/><stop offset="1.000" stop-color="#321543"/></linearGradient></defs>
<rect x="209.5" y="374.2" width="156.10" height="7.70" rx="1.5" fill="url(#cb)"/>
<line x1="240.70" x2="240.70" y1="374.2" y2="375.8" stroke="#fff" stroke-width="0.8" opacity="0.8"/>
<line x1="240.70" x2="240.70" y1="380.29999999999995" y2="381.9" stroke="#fff" stroke-width="0.8" opacity="0.8"/>
<line x1="271.90" x2="271.90" y1="374.2" y2="375.8" stroke="#fff" stroke-width="0.8" opacity="0.8"/>
<line x1="271.90" x2="271.90" y1="380.29999999999995" y2="381.9" stroke="#fff" stroke-width="0.8" opacity="0.8"/>
<line x1="303.10" x2="303.10" y1="374.2" y2="375.8" stroke="#fff" stroke-width="0.8" opacity="0.8"/>
<line x1="303.10" x2="303.10" y1="380.29999999999995" y2="381.9" stroke="#fff" stroke-width="0.8" opacity="0.8"/>
<line x1="334.30" x2="334.30" y1="374.2" y2="375.8" stroke="#fff" stroke-width="0.8" opacity="0.8"/>
<line x1="334.30" x2="334.30" y1="380.29999999999995" y2="381.9" stroke="#fff" stroke-width="0.8" opacity="0.8"/>
<text x="209.80" y="396.4" font-size="11" fill="#1a1a1a" text-anchor="middle">0</text>
<text x="241.00" y="396.4" font-size="11" fill="#1a1a1a" text-anchor="middle">2</text>
<text x="272.20" y="396.4" font-size="11" fill="#1a1a1a" text-anchor="middle">4</text>
<text x="303.40" y="396.4" font-size="11" fill="#1a1a1a" text-anchor="middle">6</text>
<text x="334.60" y="396.4" font-size="11" fill="#1a1a1a" text-anchor="middle">8</text>
<text x="365.80" y="396.4" font-size="11" fill="#1a1a1a" text-anchor="middle">10</text>
<text x="177.8" y="394.2" font-size="12.5" fill="#1a1a1a">m s<tspan font-size="9" dy="-6.8">&#8722;1</tspan></text>
</svg>
</body></html>
